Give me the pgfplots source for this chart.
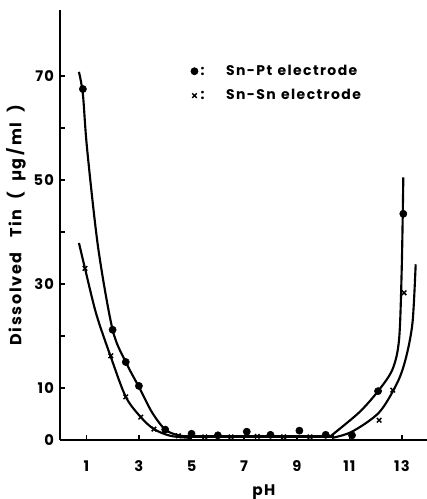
\documentclass[border=0pt]{standalone}
\usepackage{fontspec}
\setmainfont{Poppins}[LetterSpace=8]
\usepackage{pgfplots}
\pgfplotsset{compat=1.18}
\begin{document}
\begin{tikzpicture}
\begin{axis}[
  scale only axis,
  width=275.25pt, height=322.5pt,
  xmin=0, xmax=13.95, ymin=0, ymax=82.7,
  axis lines=left,
  axis line style={line width=1.6pt, -},
  xtick={1,3,5,7,9,11,13},
  ytick={0,10,20,30,40,50,60,70},
  yticklabels={0,10,,30,,50,,70},
  tick style={line width=1.2pt, black},
  major tick length=4pt,
  tick align=inside,
  ticklabel style={font=\fontsize{11}{13}\selectfont\bfseries},
  /pgf/number format/assume math mode=true,
  xticklabel style={yshift=-12pt},
  yticklabel style={xshift=-1pt},
  xlabel={\bfseries pH},
  xlabel style={font=\fontsize{11.5}{14}\selectfont, at={(axis cs:7.75,0)}, anchor=north, yshift=-30pt},
  ylabel={\bfseries Dissolved\ \ \ Tin\ \ (\ \ µg\,/\,ml\ \ )},
  ylabel style={font=\fontsize{12}{14}\selectfont\addfontfeature{LetterSpace=10}, yshift=-1pt},
  clip=false,
  legend cell align=left,
  legend style={draw=none, fill=none, at={(0.345,0.885)}, anchor=north west,
    font=\fontsize{10.5}{13}\selectfont\bfseries\addfontfeature{LetterSpace=10}, row sep=5pt},
  legend image code/.code={\draw[#1] plot coordinates {(0.15cm,0cm)};},
]
% data points
\addplot[only marks, mark=*, mark size=2.7pt, black] coordinates {
 (0.87,67.5) (2.0,21.2) (2.5,15.0) (3.0,10.4) (4.0,2.0) (5.0,1.2) (6.0,0.9)
 (7.1,1.6) (8.0,1.0) (9.1,1.8) (10.1,1.0) (11.1,0.9) (12.09,9.4) (13.05,43.5)
};
\addlegendentry{:\hspace{16pt}Sn-Pt\hspace{4pt}electrode}
\addplot[only marks, mark=x, mark size=2.4pt, line width=1.1pt, black] coordinates {
 (0.95,33.0) (1.93,16.2) (2.5,8.3) (3.07,4.4) (3.57,2.1) (4.5,0.8) (5.5,0.6)
 (6.5,0.6) (7.5,0.7) (8.5,0.6) (9.5,0.6) (12.13,3.8) (12.65,9.6) (13.08,28.3)
};
\addlegendentry{:\hspace{16pt}Sn-Sn\hspace{4pt}electrode}
% fitted curves
\addplot[black, line width=1.6pt, smooth, tension=0.5] coordinates {
 (0.72,70.8) (0.87,66.5) (1.03,56) (1.45,37) (2.0,21.2) (2.5,15.0) (3.0,10.2)
 (3.5,5.3) (4.0,2.0) (4.5,0.9) (5.0,0.6)
};
\addplot[black, line width=1.6pt, smooth, tension=0.5] coordinates {
 (0.72,37.9) (0.95,33.0) (1.38,24.2) (1.93,16.0) (2.5,8.3) (3.07,4.4)
 (3.57,2.1) (4.2,0.8) (5.0,0.4)
};
\addplot[black, line width=1.6pt, smooth, tension=0.5] coordinates {
 (10.3,0.8) (11.37,5.3) (12.09,9.4) (12.64,13.6) (12.89,19.4) (12.99,33) (13.05,50.5)
};
\addplot[black, line width=1.6pt, smooth, tension=0.5] coordinates {
 (10.34,0.4) (11.1,1.6) (12.13,5.3) (12.82,11.0) (13.15,15.8) (13.4,22.6) (13.52,33.8)
};
% flat band along axis
\addplot[black, line width=2.2pt] coordinates {(4.5,0.6) (10.4,0.6)};
\end{axis}
\pgfresetboundingbox
\path (current axis.south west) ++(-45pt,-44.25pt) coordinate (bl);
\path (current axis.north east) ++(0pt,7.5pt) coordinate (tr);
\useasboundingbox (bl) rectangle (tr);
\end{tikzpicture}
\end{document}
